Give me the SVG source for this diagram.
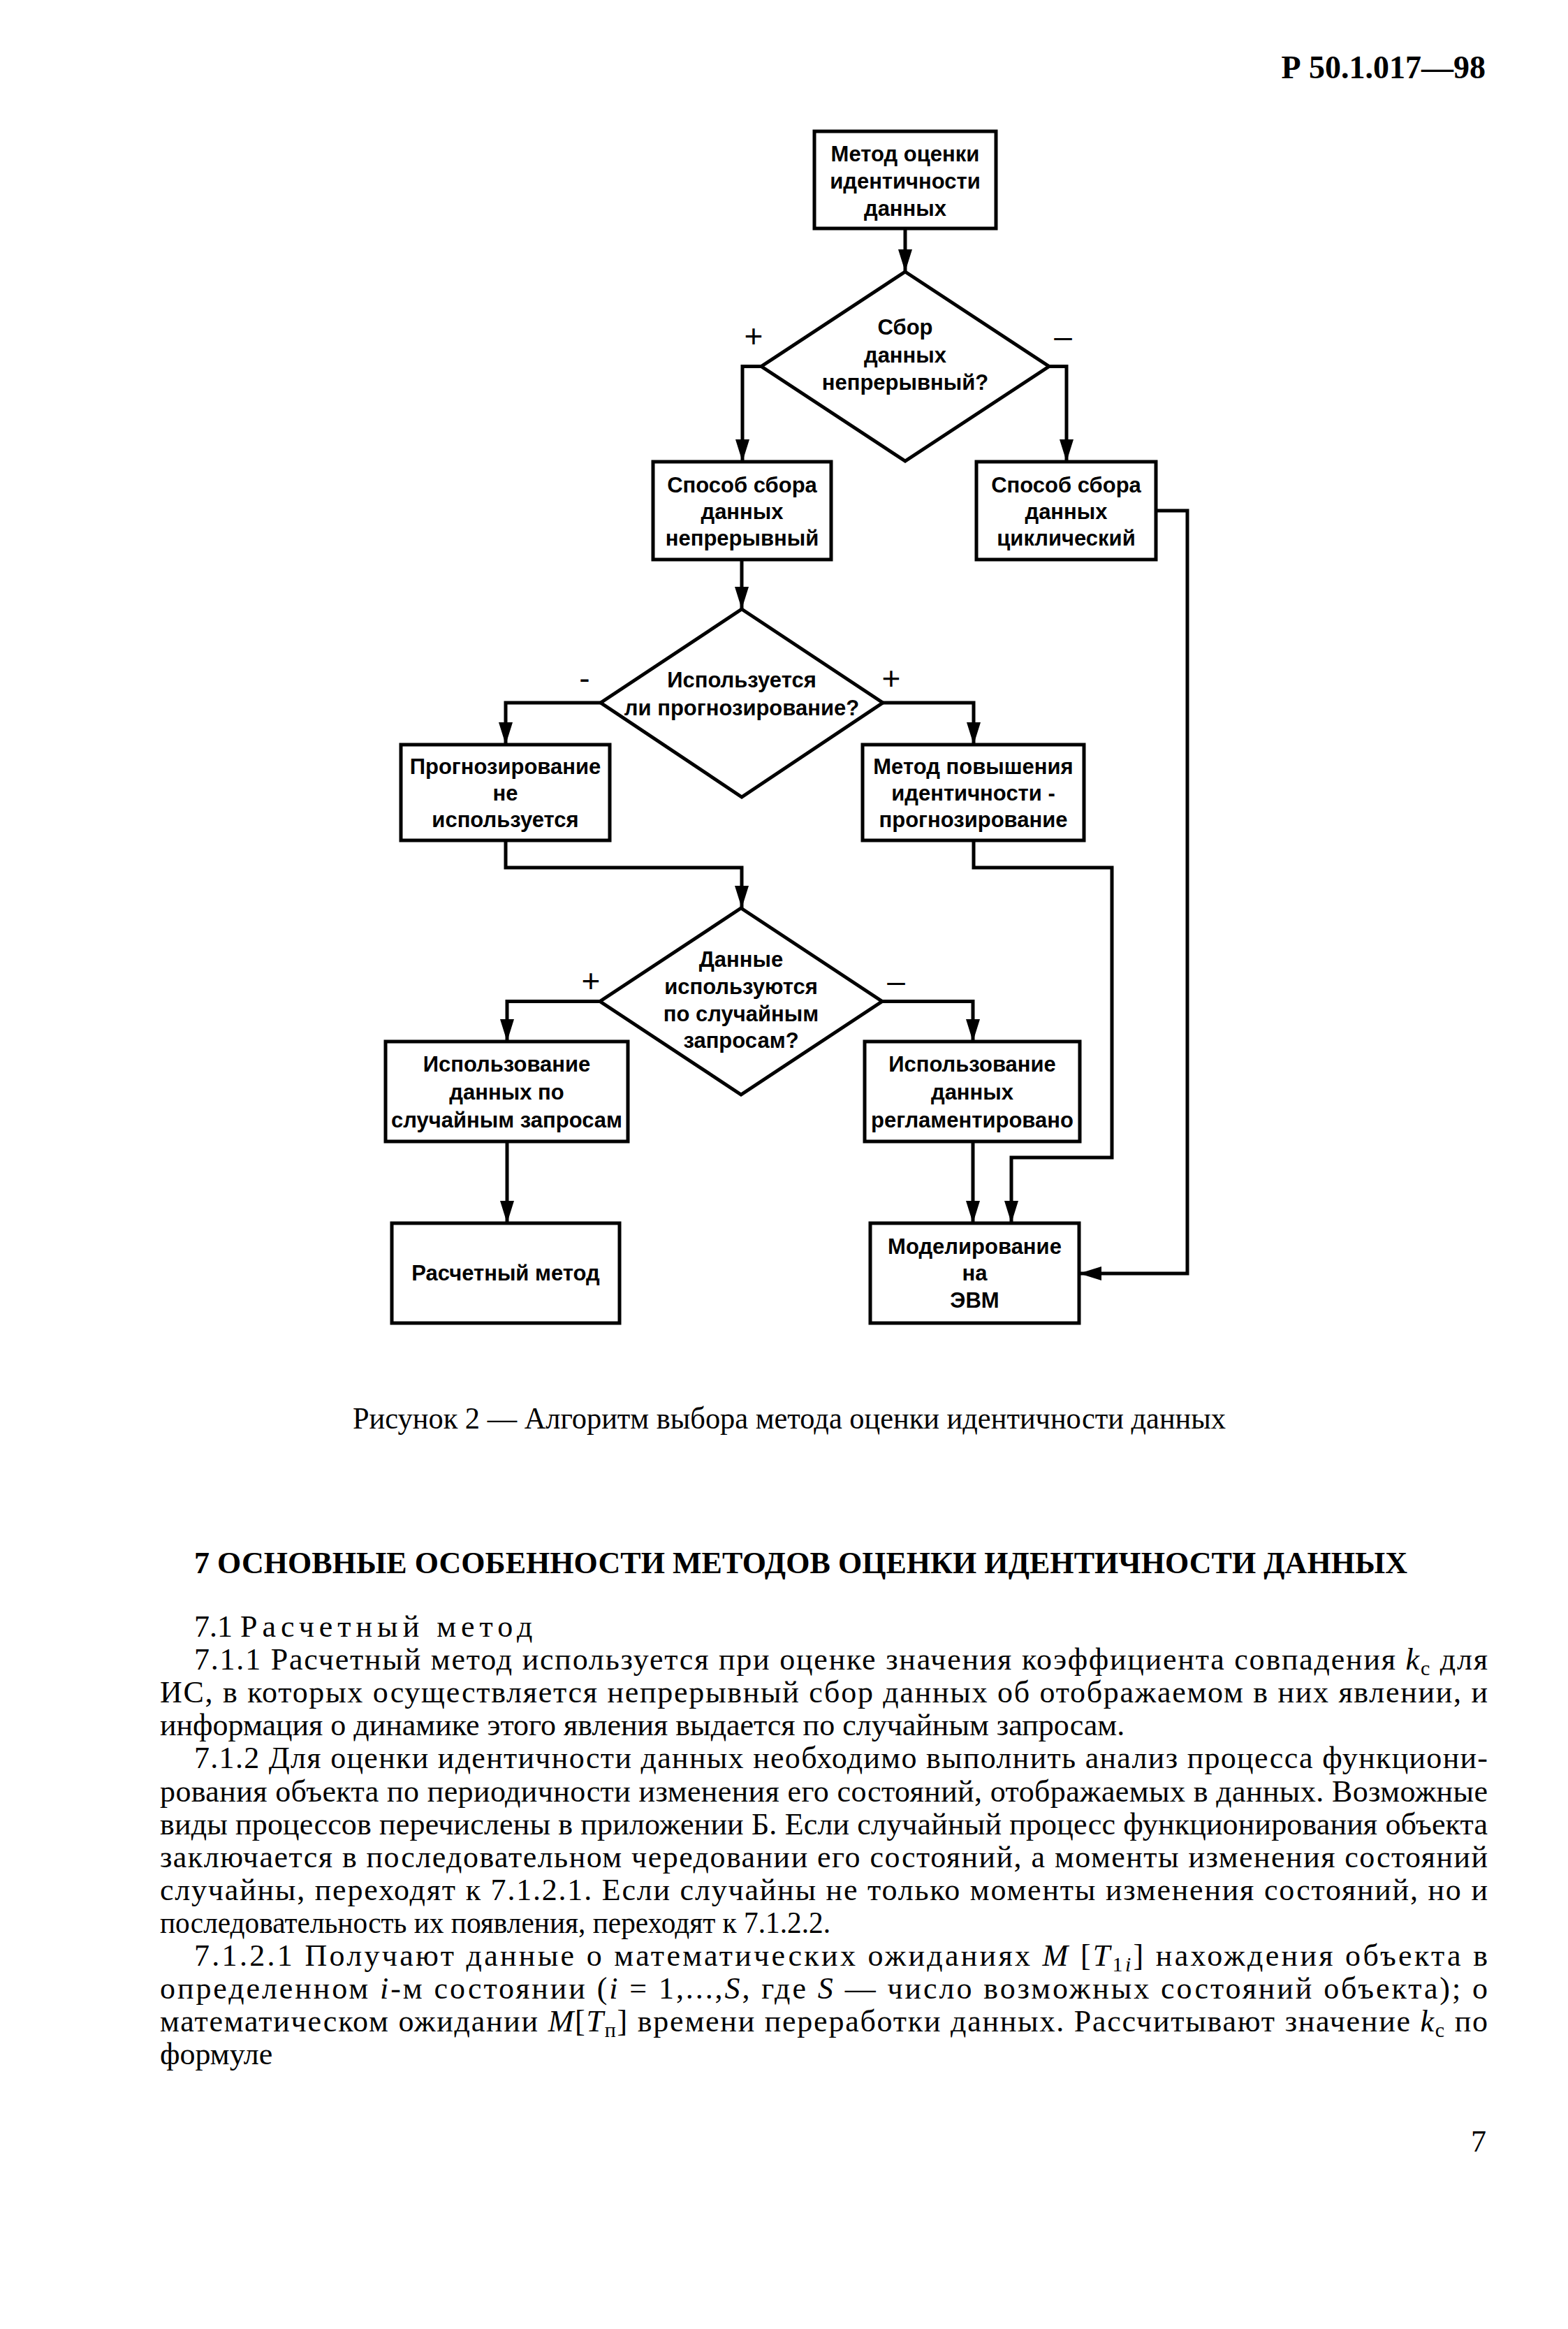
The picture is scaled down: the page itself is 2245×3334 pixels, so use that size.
<svg xmlns="http://www.w3.org/2000/svg" width="2245" height="3334" viewBox="0 0 2245 3334">
<defs>
<marker id="ah" markerUnits="userSpaceOnUse" markerWidth="32" markerHeight="20" refX="32" refY="10" orient="auto">
<path d="M0,0 L32,10 L0,20 Z" fill="#000"/>
</marker>
<style>
.box{fill:#fff;stroke:#000;stroke-width:5}
.con{fill:none;stroke:#000;stroke-width:5;marker-end:url(#ah)}
.n{font-family:"Liberation Sans",Arial,sans-serif;font-weight:bold;font-size:31px;text-anchor:middle;fill:#000}
.lbl{font-family:"Liberation Sans",Arial,sans-serif;font-size:46px;text-anchor:middle;fill:#000}
.b{font-family:"Liberation Serif","Times New Roman",serif;font-size:44px;fill:#000}
.hb{font-family:"Liberation Serif","Times New Roman",serif;font-weight:bold;fill:#000}
.i{font-style:italic}
</style>
</defs>
<rect x="0" y="0" width="2245" height="3334" fill="#fff"/>

<text class="hb" x="2127" y="112" font-size="46" text-anchor="end">Р 50.1.017—98</text>

<g id="connectors">
<polyline class="con" points="1296,327 1296,389"/>
<polyline class="con" points="1090,524.5 1063,524.5 1063,661"/>
<polyline class="con" points="1502,524.5 1527,524.5 1527,661"/>
<polyline class="con" points="1062,801 1062,872"/>
<polyline class="con" points="860,1006 724,1006 724,1066"/>
<polyline class="con" points="1264,1006 1394,1006 1394,1066"/>
<polyline class="con" points="724,1203 724,1242 1062,1242 1062,1300"/>
<polyline class="con" points="1394,1203 1394,1242 1592,1242 1592,1657 1448,1657 1448,1751"/>
<polyline class="con" points="859,1433.5 726,1433.5 726,1491"/>
<polyline class="con" points="1263,1433.5 1393,1433.5 1393,1491"/>
<polyline class="con" points="726,1634 726,1751"/>
<polyline class="con" points="1393,1634 1393,1751"/>
<polyline class="con" points="1655,731 1700,731 1700,1823 1545,1823"/>
<text class="lbl" x="1079" y="497">+</text>
<text class="lbl" x="1522" y="497">–</text>
<text class="lbl" x="837" y="987">-</text>
<text class="lbl" x="1276" y="987">+</text>
<text class="lbl" x="846" y="1420">+</text>
<text class="lbl" x="1283" y="1420">–</text>
</g>

<g id="n1">
<rect class="box" x="1166" y="188" width="260" height="139"/>
<text class="n" x="1296" y="231">Метод оценки</text>
<text class="n" x="1296" y="270">идентичности</text>
<text class="n" x="1296" y="309">данных</text>
</g>

<g id="d1">
<polygon class="box" points="1296,389 1502,524.5 1296,660 1090,524.5"/>
<text class="n" x="1296" y="479">Сбор</text>
<text class="n" x="1296" y="519">данных</text>
<text class="n" x="1296" y="558">непрерывный?</text>
</g>

<g id="n2">
<rect class="box" x="935" y="661" width="255" height="140"/>
<text class="n" x="1062.5" y="705">Способ сбора</text>
<text class="n" x="1062.5" y="743">данных</text>
<text class="n" x="1062.5" y="781">непрерывный</text>
</g>

<g id="n3">
<rect class="box" x="1398" y="661" width="257" height="140"/>
<text class="n" x="1526.5" y="705">Способ сбора</text>
<text class="n" x="1526.5" y="743">данных</text>
<text class="n" x="1526.5" y="781">циклический</text>
</g>

<g id="d2">
<polygon class="box" points="1062,872 1264,1006 1062,1141 860,1006"/>
<text class="n" x="1062" y="984">Используется</text>
<text class="n" x="1062" y="1024">ли прогнозирование?</text>
</g>

<g id="n4">
<rect class="box" x="574" y="1066" width="299" height="137"/>
<text class="n" x="723.5" y="1108">Прогнозирование</text>
<text class="n" x="723.5" y="1146">не</text>
<text class="n" x="723.5" y="1184">используется</text>
</g>

<g id="n5">
<rect class="box" x="1235" y="1066" width="317" height="137"/>
<text class="n" x="1393.5" y="1108">Метод повышения</text>
<text class="n" x="1393.5" y="1146">идентичности -</text>
<text class="n" x="1393.5" y="1184">прогнозирование</text>
</g>

<g id="d3">
<polygon class="box" points="1061,1300 1263,1433.5 1061,1567 859,1433.5"/>
<text class="n" x="1061" y="1384">Данные</text>
<text class="n" x="1061" y="1423">используются</text>
<text class="n" x="1061" y="1462">по случайным</text>
<text class="n" x="1061" y="1500">запросам?</text>
</g>

<g id="n6">
<rect class="box" x="552" y="1491" width="347" height="143"/>
<text class="n" x="725.5" y="1534">Использование</text>
<text class="n" x="725.5" y="1574">данных по</text>
<text class="n" x="725.5" y="1614">случайным запросам</text>
</g>

<g id="n7">
<rect class="box" x="1238" y="1491" width="308" height="143"/>
<text class="n" x="1392" y="1534">Использование</text>
<text class="n" x="1392" y="1574">данных</text>
<text class="n" x="1392" y="1614">регламентировано</text>
</g>

<g id="n8">
<rect class="box" x="561" y="1751" width="326" height="143"/>
<text class="n" x="724" y="1833">Расчетный метод</text>
</g>

<g id="n9">
<rect class="box" x="1246" y="1751" width="299" height="143"/>
<text class="n" x="1395.5" y="1795">Моделирование</text>
<text class="n" x="1395.5" y="1833">на</text>
<text class="n" x="1395.5" y="1872">ЭВМ</text>
</g>

<text class="b" x="505" y="2045" font-size="40" textLength="1250" lengthAdjust="spacingAndGlyphs">Рисунок 2 — Алгоритм выбора метода оценки идентичности данных</text>

<text class="hb" x="278" y="2252" font-size="44" textLength="1737" lengthAdjust="spacing">7 ОСНОВНЫЕ ОСОБЕННОСТИ МЕТОДОВ ОЦЕНКИ ИДЕНТИЧНОСТИ ДАННЫХ</text>

<text class="b" x="278" y="2343">7.1 <tspan letter-spacing="7">Расчетный метод</tspan></text>
<text class="b" x="278" y="2390" textLength="1852" lengthAdjust="spacing">7.1.1 Расчетный метод используется при оценке значения коэффициента совпадения <tspan class="i">k</tspan><tspan font-size="30" dy="8">с</tspan><tspan dy="-8"> для</tspan></text>
<text class="b" x="229" y="2437" textLength="1901" lengthAdjust="spacing">ИС, в которых осуществляется непрерывный сбор данных об отображаемом в них явлении, и</text>
<text class="b" x="229" y="2484">информация о динамике этого явления выдается по случайным запросам.</text>
<text class="b" x="278" y="2531" textLength="1852" lengthAdjust="spacing">7.1.2 Для оценки идентичности данных необходимо выполнить анализ процесса функциони-</text>
<text class="b" x="229" y="2579" textLength="1901" lengthAdjust="spacing">рования объекта по периодичности изменения его состояний, отображаемых в данных. Возможные</text>
<text class="b" x="229" y="2626" textLength="1901" lengthAdjust="spacing">виды процессов перечислены в приложении Б. Если случайный процесс функционирования объекта</text>
<text class="b" x="229" y="2673" textLength="1901" lengthAdjust="spacing">заключается в последовательном чередовании его состояний, а моменты изменения состояний</text>
<text class="b" x="229" y="2720" textLength="1901" lengthAdjust="spacing">случайны, переходят к 7.1.2.1. Если случайны не только моменты изменения состояний, но и</text>
<text class="b" x="229" y="2767" textLength="960" lengthAdjust="spacingAndGlyphs">последовательность их появления, переходят к 7.1.2.2.</text>
<text class="b" x="278" y="2814" textLength="1852" lengthAdjust="spacing">7.1.2.1 Получают данные о математических ожиданиях <tspan class="i">M</tspan> [<tspan class="i">T</tspan><tspan font-size="30" dy="8">1<tspan class="i">i</tspan></tspan><tspan dy="-8">] нахождения объекта в</tspan></text>
<text class="b" x="229" y="2861" textLength="1901" lengthAdjust="spacing">определенном <tspan class="i">i</tspan>-м состоянии (<tspan class="i">i</tspan> = 1,...,<tspan class="i">S</tspan>, где <tspan class="i">S</tspan> — число возможных состояний объекта); о</text>
<text class="b" x="229" y="2908" textLength="1901" lengthAdjust="spacing">математическом ожидании <tspan class="i">M</tspan>[<tspan class="i">T</tspan><tspan font-size="30" dy="8">п</tspan><tspan dy="-8">] времени переработки данных. Рассчитывают значение </tspan><tspan class="i">k</tspan><tspan font-size="30" dy="8">с</tspan><tspan dy="-8"> по</tspan></text>
<text class="b" x="229" y="2955">формуле</text>

<text class="b" x="2128" y="3080" text-anchor="end">7</text>
</svg>
